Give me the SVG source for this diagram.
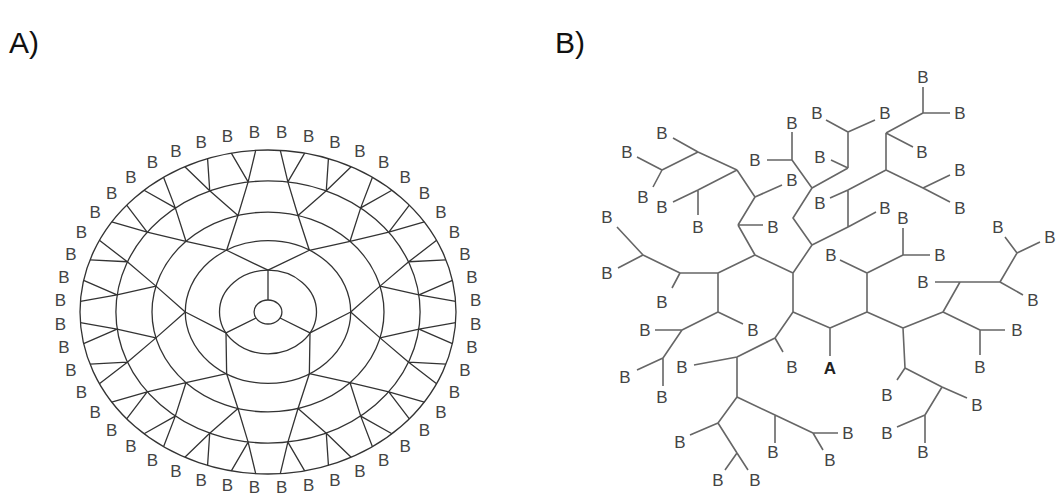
<svg xmlns="http://www.w3.org/2000/svg" xmlns:xlink="http://www.w3.org/1999/xlink" width="1060" height="498" viewBox="0 0 1060 498">
  <style>
    .title { font-family: "Liberation Sans", Arial, sans-serif; font-size: 30px; fill: #111; }
    .lbl { font-family: "Liberation Sans", Arial, sans-serif; font-size: 17px; fill: #444; text-anchor: middle; }
    .core { font-weight: bold; fill: #222; }
    .ring { fill: none; stroke: #333; stroke-width: 1.3; }
    .web { fill: none; stroke: #333; stroke-width: 1.3; stroke-linejoin: round; }
    .edge { fill: none; stroke: #666; stroke-width: 1.6; stroke-linejoin: round; }
  </style>
  <defs>
    <!-- one third of the shell network, drawn in a radius-100 frame; the group transform stretches it into an ellipse -->
    <path id="sector" class="web" vector-effect="non-scaling-stroke" d="M0,-7.4V-25.8
      M22,-38.1L0,-25.8L-22,-38.1
      M43.63,-43.63L22,-38.1L15.97,-59.6
      M-15.97,-59.6L-22,-38.1L-43.63,-43.63
      M64.27,-49.31L43.63,-43.63L49.31,-64.27
      M31,-74.84L15.97,-59.6L10.57,-80.3
      M-10.57,-80.3L-15.97,-59.6L-31,-74.84
      M-49.31,-64.27L-43.63,-43.63L-64.27,-49.31
      M83.15,-55.56L64.27,-49.31L75.18,-65.93
      M65.93,-75.18L49.31,-64.27L55.56,-83.15
      M44.23,-89.69L31,-74.84L32.14,-94.69
      M19.51,-98.08L10.57,-80.3L6.54,-99.79
      M-6.54,-99.79L-10.57,-80.3L-19.51,-98.08
      M-32.14,-94.69L-31,-74.84L-44.23,-89.69
      M-55.56,-83.15L-49.31,-64.27L-65.93,-75.18
      M-75.18,-65.93L-64.27,-49.31L-83.15,-55.56"/>
  </defs>

  <rect width="1060" height="498" fill="#fff"/>

  <text class="title" x="9" y="53">A)</text>
  <text class="title" x="555" y="53">B)</text>

  <!-- Panel A: concentric shells with the branching web -->
  <g id="panelA">
    <g id="shells" transform="translate(268 312) scale(1.88 1.62)">
      <circle class="ring" vector-effect="non-scaling-stroke" r="100"/>
      <circle class="ring" vector-effect="non-scaling-stroke" r="80.9"/>
      <circle class="ring" vector-effect="non-scaling-stroke" r="61.7"/>
      <circle class="ring" vector-effect="non-scaling-stroke" r="44"/>
      <circle class="ring" vector-effect="non-scaling-stroke" r="25.8"/>
      <circle class="ring" vector-effect="non-scaling-stroke" r="7.4"/>
      <use xlink:href="#sector" href="#sector"/>
      <use xlink:href="#sector" href="#sector" transform="rotate(120)"/>
      <use xlink:href="#sector" href="#sector" transform="rotate(240)"/>
    </g>
    <g id="shellLabels">
      <g id="a01"><text class="lbl" x="475.6" y="306.2">B</text></g>
      <g id="a02"><text class="lbl" x="472.0" y="282.9">B</text></g>
      <g id="a03"><text class="lbl" x="465.0" y="260.1">B</text></g>
      <g id="a04"><text class="lbl" x="454.5" y="238.4">B</text></g>
      <g id="a05"><text class="lbl" x="440.9" y="218.0">B</text></g>
      <g id="a06"><text class="lbl" x="424.4" y="199.3">B</text></g>
      <g id="a07"><text class="lbl" x="405.1" y="182.7">B</text></g>
      <g id="a08"><text class="lbl" x="383.6" y="168.3">B</text></g>
      <g id="a09"><text class="lbl" x="360.0" y="156.6">B</text></g>
      <g id="a10"><text class="lbl" x="334.9" y="147.6">B</text></g>
      <g id="a11"><text class="lbl" x="308.6" y="141.5">B</text></g>
      <g id="a12"><text class="lbl" x="281.6" y="138.4">B</text></g>
      <g id="a13"><text class="lbl" x="254.4" y="138.4">B</text></g>
      <g id="a14"><text class="lbl" x="227.4" y="141.5">B</text></g>
      <g id="a15"><text class="lbl" x="201.1" y="147.6">B</text></g>
      <g id="a16"><text class="lbl" x="176.0" y="156.6">B</text></g>
      <g id="a17"><text class="lbl" x="152.4" y="168.3">B</text></g>
      <g id="a18"><text class="lbl" x="130.9" y="182.7">B</text></g>
      <g id="a19"><text class="lbl" x="111.6" y="199.3">B</text></g>
      <g id="a20"><text class="lbl" x="95.1" y="218.0">B</text></g>
      <g id="a21"><text class="lbl" x="81.5" y="238.4">B</text></g>
      <g id="a22"><text class="lbl" x="71.0" y="260.1">B</text></g>
      <g id="a23"><text class="lbl" x="64.0" y="282.9">B</text></g>
      <g id="a24"><text class="lbl" x="60.4" y="306.2">B</text></g>
      <g id="a25"><text class="lbl" x="60.4" y="329.8">B</text></g>
      <g id="a26"><text class="lbl" x="64.0" y="353.1">B</text></g>
      <g id="a27"><text class="lbl" x="71.0" y="375.9">B</text></g>
      <g id="a28"><text class="lbl" x="81.5" y="397.6">B</text></g>
      <g id="a29"><text class="lbl" x="95.1" y="418.0">B</text></g>
      <g id="a30"><text class="lbl" x="111.6" y="436.2">B</text></g>
      <g id="a31"><text class="lbl" x="130.9" y="452.3">B</text></g>
      <g id="a32"><text class="lbl" x="152.4" y="466.2">B</text></g>
      <g id="a33"><text class="lbl" x="176.0" y="477.4">B</text></g>
      <g id="a34"><text class="lbl" x="201.1" y="485.6">B</text></g>
      <g id="a35"><text class="lbl" x="227.4" y="491.0">B</text></g>
      <g id="a36"><text class="lbl" x="254.4" y="493.0">B</text></g>
      <g id="a37"><text class="lbl" x="281.6" y="493.0">B</text></g>
      <g id="a38"><text class="lbl" x="308.6" y="491.0">B</text></g>
      <g id="a39"><text class="lbl" x="334.9" y="485.6">B</text></g>
      <g id="a40"><text class="lbl" x="360.0" y="477.4">B</text></g>
      <g id="a41"><text class="lbl" x="383.6" y="466.2">B</text></g>
      <g id="a42"><text class="lbl" x="405.1" y="452.3">B</text></g>
      <g id="a43"><text class="lbl" x="424.4" y="436.2">B</text></g>
      <g id="a44"><text class="lbl" x="440.9" y="418.0">B</text></g>
      <g id="a45"><text class="lbl" x="454.5" y="397.6">B</text></g>
      <g id="a46"><text class="lbl" x="465.0" y="375.9">B</text></g>
      <g id="a47"><text class="lbl" x="472.0" y="353.1">B</text></g>
      <g id="a48"><text class="lbl" x="475.6" y="329.8">B</text></g>
    </g>
  </g>

  <!-- Panel B: branched tree grown from the core A -->
  <g id="panelB">
    <g id="connectors">
      <!-- trunk -->
      <path class="edge" d="M830,356V328 M793,312L830,328L867,312"/>
      <!-- left limb -->
      <path class="edge" d="M793,312V273 M793,312L775,338
        M793,273L812,245 M793,273L755,255
        M812,245L848,227 M812,245L793,218L812,188
        M848,227V190 M848,227L876,212
        M848,190L830,198 M848,190L886,170
        M886,170V133 M886,170L923,188
        M886,133L923,113 M886,133L913,147
        M923,113V87 M923,113H950
        M923,188L950,175 M923,188L950,202
        M812,188L792,160 M812,188L848,168
        M792,160V132 M792,160H767
        M848,168L831,160 M848,168V132
        M848,132L826,120 M848,132L875,120"/>
      <path class="edge" d="M755,255L718,273 M755,255L738,225
        M718,273H680 M718,273V312
        M680,273L643,255 M680,273L672,288
        M643,255L617,227 M643,255L618,268
        M718,312L743,324 M718,312L682,330
        M682,330H655 M682,330L663,358
        M663,358L637,370 M663,358V386
        M738,225H763 M738,225L755,197
        M755,197L782,185 M755,197L737,170
        M737,170L698,152 M737,170L698,190
        M698,152L673,138 M698,152L662,170
        M662,170L637,157 M662,170L653,187
        M698,190L673,202 M698,190V215"/>
      <path class="edge" d="M775,338L783,352 M775,338L737,357
        M737,357L694,365 M737,357V397
        M737,397L718,423 M737,397L775,415
        M718,423L690,435 M718,423L737,453
        M737,453L725,470 M737,453L748,470
        M775,415V443 M775,415L813,433
        M813,433H838 M813,433L823,450"/>
      <!-- right limb -->
      <path class="edge" d="M867,312V273 M867,312L903,328
        M867,273L840,260 M867,273L903,255
        M903,255V228 M903,255H930
        M903,328L943,312 M903,328L905,368
        M943,312L960,282 M943,312L980,330
        M960,282H935 M960,282H1000
        M1000,282L1023,295 M1000,282L1017,253
        M1017,253L1005,237 M1017,253L1040,242
        M980,330H1005 M980,330V355
        M905,368L897,380 M905,368L942,387
        M942,387L967,398 M942,387L925,415
        M925,415L897,427 M925,415V443"/>
    </g>
    <g id="treeLabels">
      <g id="core"><text class="lbl core" x="830" y="374">A</text></g>
      <g id="b01"><text class="lbl" x="607" y="223">B</text></g>
      <g id="b02"><text class="lbl" x="607" y="279">B</text></g>
      <g id="b03"><text class="lbl" x="662" y="308">B</text></g>
      <g id="b04"><text class="lbl" x="645" y="336">B</text></g>
      <g id="b05"><text class="lbl" x="753" y="336">B</text></g>
      <g id="b06"><text class="lbl" x="625" y="383">B</text></g>
      <g id="b07"><text class="lbl" x="662" y="403">B</text></g>
      <g id="b08"><text class="lbl" x="682" y="373">B</text></g>
      <g id="b09"><text class="lbl" x="792" y="373">B</text></g>
      <g id="b10"><text class="lbl" x="680" y="448">B</text></g>
      <g id="b11"><text class="lbl" x="718" y="486">B</text></g>
      <g id="b12"><text class="lbl" x="755" y="486">B</text></g>
      <g id="b13"><text class="lbl" x="773" y="458">B</text></g>
      <g id="b14"><text class="lbl" x="848" y="439">B</text></g>
      <g id="b15"><text class="lbl" x="830" y="466">B</text></g>
      <g id="b16"><text class="lbl" x="662" y="139">B</text></g>
      <g id="b17"><text class="lbl" x="627" y="158">B</text></g>
      <g id="b18"><text class="lbl" x="643" y="203">B</text></g>
      <g id="b19"><text class="lbl" x="662" y="213">B</text></g>
      <g id="b20"><text class="lbl" x="698" y="233">B</text></g>
      <g id="b21"><text class="lbl" x="792" y="186">B</text></g>
      <g id="b22"><text class="lbl" x="773" y="233">B</text></g>
      <g id="b23"><text class="lbl" x="755" y="166">B</text></g>
      <g id="b24"><text class="lbl" x="792" y="129">B</text></g>
      <g id="b25"><text class="lbl" x="817" y="119">B</text></g>
      <g id="b26"><text class="lbl" x="820" y="163">B</text></g>
      <g id="b27"><text class="lbl" x="820" y="209">B</text></g>
      <g id="b28"><text class="lbl" x="885" y="214">B</text></g>
      <g id="b29"><text class="lbl" x="885" y="119">B</text></g>
      <g id="b30"><text class="lbl" x="923" y="83">B</text></g>
      <g id="b31"><text class="lbl" x="960" y="119">B</text></g>
      <g id="b32"><text class="lbl" x="922" y="158">B</text></g>
      <g id="b33"><text class="lbl" x="960" y="176">B</text></g>
      <g id="b34"><text class="lbl" x="960" y="214">B</text></g>
      <g id="b35"><text class="lbl" x="831" y="261">B</text></g>
      <g id="b36"><text class="lbl" x="903" y="224">B</text></g>
      <g id="b37"><text class="lbl" x="940" y="261">B</text></g>
      <g id="b38"><text class="lbl" x="923" y="288">B</text></g>
      <g id="b39"><text class="lbl" x="998" y="233">B</text></g>
      <g id="b40"><text class="lbl" x="1050" y="243">B</text></g>
      <g id="b41"><text class="lbl" x="1033" y="306">B</text></g>
      <g id="b42"><text class="lbl" x="1017" y="336">B</text></g>
      <g id="b43"><text class="lbl" x="980" y="373">B</text></g>
      <g id="b44"><text class="lbl" x="887" y="401">B</text></g>
      <g id="b45"><text class="lbl" x="977" y="411">B</text></g>
      <g id="b46"><text class="lbl" x="887" y="439">B</text></g>
      <g id="b47"><text class="lbl" x="923" y="458">B</text></g>
    </g>
  </g>
</svg>
